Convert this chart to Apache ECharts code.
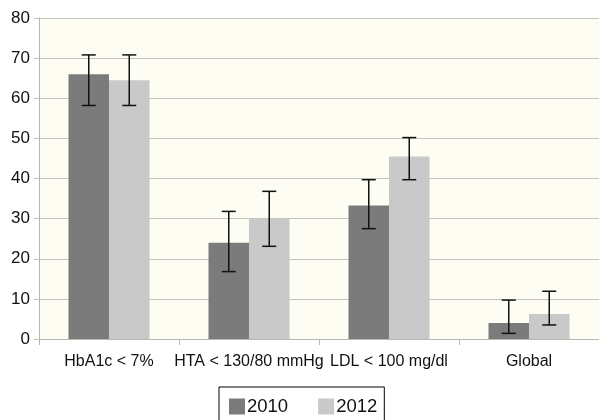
<!DOCTYPE html>
<html><head><meta charset="utf-8">
<style>html,body{margin:0;padding:0;background:#fff}#c{width:599px;height:420px}</style>
<script src="https://cdn.jsdelivr.net/npm/echarts@6/dist/echarts.min.js"></script>
</head><body><div id="c"></div>
<script>
const categories = ['HbA1c < 7%', 'HTA < 130/80 mmHg', 'LDL < 100 mg/dl', 'Global'];
const seriesNames = ['2010', '2012'];
const values2010 = [66, 24, 33.3, 4];
const values2012 = [64.5, 30, 45.5, 6.2];
const errLow2010 = [58.2, 16.8, 27.5, 1.4];
const errHigh2010 = [70.8, 31.8, 39.7, 9.7];
const errLow2012 = [58.2, 23.1, 39.7, 3.5];
const errHigh2012 = [70.8, 36.8, 50.2, 11.9];
const yTicks = [0, 10, 20, 30, 40, 50, 60, 70, 80];

const BAR_W = 40.5;
function errSeries(lows, highs, shift) {
  return {
    type: 'custom',
    silent: true,
    z: 10,
    data: lows.map((l, i) => [i, l, highs[i]]),
    renderItem: function (params, api) {
      const i = api.value(0);
      const lo = api.coord([i, api.value(1)]);
      const hi = api.coord([i, api.value(2)]);
      const x = lo[0] + shift * BAR_W / 2;
      const cap = 7;
      const st = { stroke: '#111', lineWidth: 1.5 };
      return { type: 'group', children: [
        { type: 'line', shape: { x1: x, y1: hi[1], x2: x, y2: lo[1] }, style: st },
        { type: 'line', shape: { x1: x - cap, y1: hi[1], x2: x + cap, y2: hi[1] }, style: st },
        { type: 'line', shape: { x1: x - cap, y1: lo[1], x2: x + cap, y2: lo[1] }, style: st }
      ]};
    }
  };
}

const chart = echarts.init(document.getElementById('c'));
chart.setOption({
  animation: false,
  backgroundColor: '#ffffff',
  textStyle: { fontFamily: 'Liberation Sans, Arial, sans-serif' },
  grid: { left: 39, top: 18, width: 562, height: 321, show: true, backgroundColor: '#fdfdf3', borderWidth: 0 },
  legend: {
    data: seriesNames,
    left: 219, top: 387,
    orient: 'horizontal',
    itemWidth: 16, itemHeight: 16,
    itemGap: 30,
    icon: 'rect',
    padding: [10, 7, 10, 10],
    borderColor: '#000', borderWidth: 1,
    textStyle: { fontSize: 18.5, color: '#111', padding: [0, 0, 0, -3] }
  },
  xAxis: {
    type: 'category',
    data: categories,
    boundaryGap: true,
    axisLine: { lineStyle: { color: '#b8b8b0', width: 1 } },
    axisTick: { show: true, length: 6, interval: 0, lineStyle: { color: '#b8b8b0' } },
    axisLabel: { fontSize: 16, color: '#111', margin: 15, interval: 0 }
  },
  yAxis: {
    type: 'value',
    min: yTicks[0], max: yTicks[yTicks.length - 1], interval: 10,
    axisLine: { show: true, lineStyle: { color: '#b8b8b0', width: 1 } },
    axisTick: { show: true, length: 5, lineStyle: { color: '#c4c4bc' } },
    axisLabel: { fontSize: 17, color: '#111', margin: 9 },
    splitLine: { lineStyle: { color: '#c4c4bc', width: 1.2 } }
  },
  series: [
    { name: seriesNames[0], type: 'bar', data: values2010, barWidth: BAR_W, barGap: '0%', itemStyle: { color: '#7b7b7b' } },
    { name: seriesNames[1], type: 'bar', data: values2012, barWidth: BAR_W, barGap: '0%', itemStyle: { color: '#c9c9c9' } },
    errSeries(errLow2010, errHigh2010, -1),
    errSeries(errLow2012, errHigh2012, 1)
  ]
});
</script></body></html>
